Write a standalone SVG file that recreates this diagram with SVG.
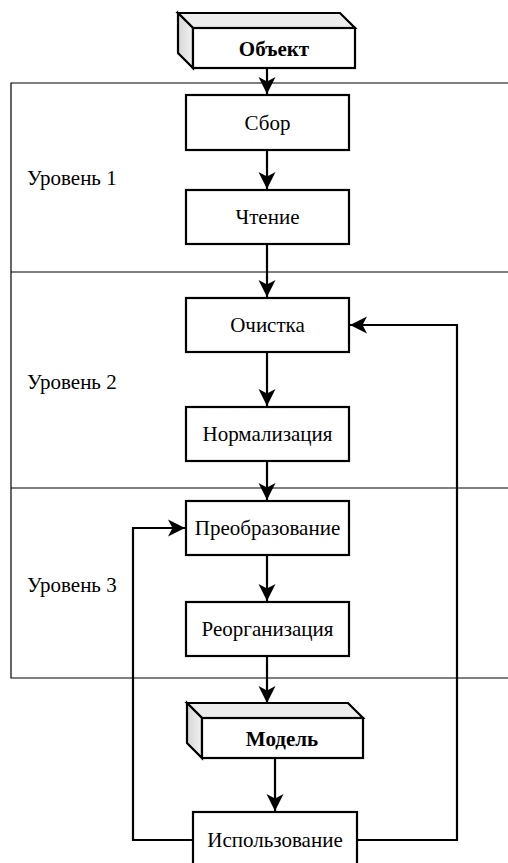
<svg xmlns="http://www.w3.org/2000/svg" width="508" height="863" viewBox="0 0 508 863">
<style>
.box{fill:#fff;stroke:#000;stroke-width:2.2}
.face{fill:#ececec;stroke:#000;stroke-width:2.2;stroke-linejoin:miter}
.side{fill:url(#sideg);stroke:#000;stroke-width:2.2}
.frame{fill:none;stroke:#000;stroke-width:1.2}
.t{font-family:"Liberation Serif","Times New Roman",serif;font-size:21px;fill:#000;text-anchor:middle}
.b{font-weight:bold}
.lvl{font-family:"Liberation Serif","Times New Roman",serif;font-size:21px;fill:#000}
.c{fill:none;stroke:#000;stroke-width:2.2}
</style>
<defs>
<linearGradient id="sideg" x1="0" y1="0" x2="1" y2="0">
<stop offset="0" stop-color="#d6d6d6"/>
<stop offset="1" stop-color="#f2f2f2"/>
</linearGradient>
<marker id="arr" markerUnits="userSpaceOnUse" viewBox="0 0 18 18" markerWidth="18" markerHeight="18" refX="17" refY="9" orient="auto">
<path d="M17,9 L0,0.5 L4.5,9 L0,17.5 Z" fill="#000"/>
</marker>
</defs>
<g id="frame">
<path class="frame" d="M520,83 H11 V678 H520 M11,272 H520 M11,488 H520"/>
<text class="lvl" x="27" y="185">Уровень 1</text>
<text class="lvl" x="27" y="389">Уровень 2</text>
<text class="lvl" x="27" y="592">Уровень 3</text>
</g>
<g id="connectors">
<path class="c" d="M267,68 V94" marker-end="url(#arr)"/>
<path class="c" d="M267,150 V189" marker-end="url(#arr)"/>
<path class="c" d="M267,244 V297" marker-end="url(#arr)"/>
<path class="c" d="M267,352 V406" marker-end="url(#arr)"/>
<path class="c" d="M267,461 V500" marker-end="url(#arr)"/>
<path class="c" d="M267,555 V601" marker-end="url(#arr)"/>
<path class="c" d="M267,656 V703" marker-end="url(#arr)"/>
<path class="c" d="M275,758 V811" marker-end="url(#arr)"/>
<path class="c" d="M193,840 H133 V528 H185" marker-end="url(#arr)"/>
<path class="c" d="M357,840 H457 V325 H350" marker-end="url(#arr)"/>
</g>
<g id="obj">
<polygon class="face" points="178,13 340,13 355,28 193,28"/>
<polygon class="side" points="178,13 193,28 193,68 178,53"/>
<rect class="box" x="193" y="28" width="162" height="40"/>
<text class="t b" x="274" y="56">Объект</text>
</g>
<g id="sbor">
<rect class="box" x="186" y="95" width="163" height="55"/>
<text class="t" x="267.5" y="130">Сбор</text>
</g>
<g id="chtenie">
<rect class="box" x="186" y="190" width="163" height="54"/>
<text class="t" x="267.5" y="224">Чтение</text>
</g>
<g id="ochistka">
<rect class="box" x="186" y="298" width="163" height="54"/>
<text class="t" x="267.5" y="332">Очистка</text>
</g>
<g id="norm">
<rect class="box" x="186" y="407" width="163" height="54"/>
<text class="t" x="267.5" y="441">Нормализация</text>
</g>
<g id="preobr">
<rect class="box" x="186" y="501" width="163" height="54"/>
<text class="t" x="267.5" y="535">Преобразование</text>
</g>
<g id="reorg">
<rect class="box" x="186" y="602" width="163" height="54"/>
<text class="t" x="267.5" y="636">Реорганизация</text>
</g>
<g id="model">
<polygon class="face" points="187,703 348,703 363,718 202,718"/>
<polygon class="side" points="187,703 202,718 202,758 187,743"/>
<rect class="box" x="202" y="718" width="161" height="40"/>
<text class="t b" x="282" y="746">Модель</text>
</g>
<g id="ispolz">
<rect class="box" x="193" y="812" width="164" height="56"/>
<text class="t" x="275" y="847">Использование</text>
</g>
</svg>
